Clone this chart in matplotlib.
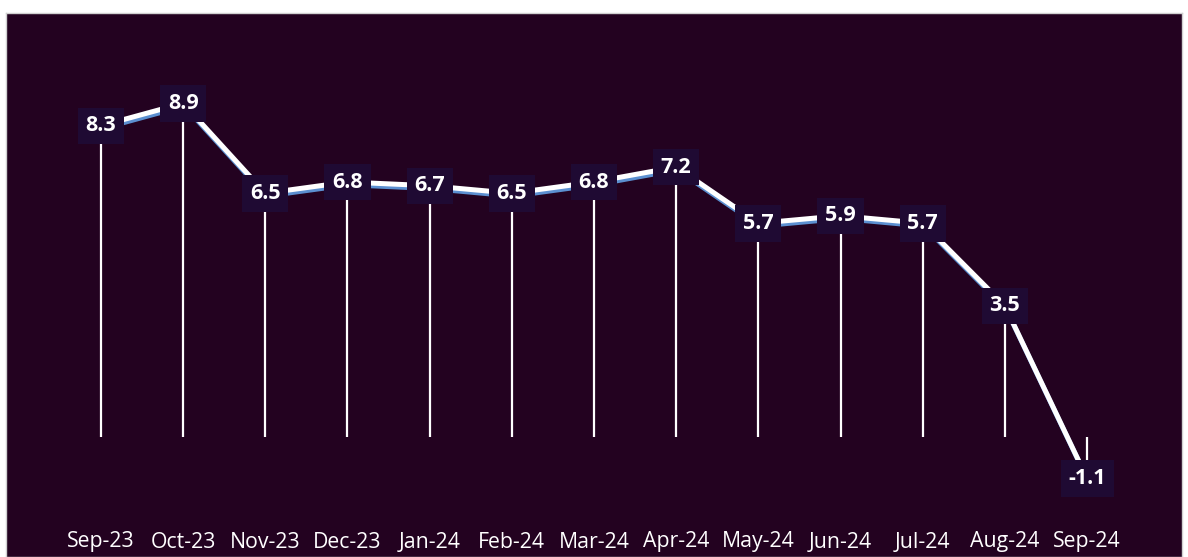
import matplotlib.pyplot as plt
import matplotlib.patheffects as pe

# monthly values
months = ["Sep-23", "Oct-23", "Nov-23", "Dec-23", "Jan-24", "Feb-24", "Mar-24",
          "Apr-24", "May-24", "Jun-24", "Jul-24", "Aug-24", "Sep-24"]
values = [8.3, 8.9, 6.5, 6.8, 6.7, 6.5, 6.8, 7.2, 5.7, 5.9, 5.7, 3.5, -1.1]

BG = "#230220"
BOX = "#1f0a33"
SHADOW = "#5b8fd0"

W, H = 1188, 557
fig = plt.figure(figsize=(W / 100, H / 100), dpi=100)
fig.patch.set_facecolor("white")

# plot area in pixels: left 6, right 1182, top 13, bottom 557
ax = fig.add_axes([6 / W, 0, (1182 - 6) / W, (557 - 13) / H])
ax.set_facecolor(BG)
for s in ax.spines.values():
    s.set_color("#d0d0d0")
    s.set_linewidth(1)

x = list(range(len(months)))

# drop lines from zero to each point
ax.vlines(x, 0, values, color="white", linewidth=1.6, zorder=2)

ax.plot(x, values, color="white", linewidth=3.6, solid_capstyle="butt", zorder=3,
        path_effects=[pe.SimpleLineShadow(offset=(0.8, -2.0), shadow_color=SHADOW, alpha=1),
                      pe.Normal()])

for xi, v in zip(x, values):
    ax.text(xi, v, f"{v:.1f}", ha="center", va="center", color="white",
            fontsize=15.5, fontweight="bold", family="Open Sans", zorder=5,
            bbox=dict(boxstyle="square,pad=0.36", facecolor=BOX, edgecolor="none"))

# category labels at the bottom
for xi, m in zip(x, months):
    ax.text(xi, -2.8, m, ha="center", va="center", color="white",
            fontsize=15.3, family="Open Sans")

# 0 sits at y=437 px, 37.5 px per unit
ax.set_ylim(-(557 - 437) / 37.5, (437 - 13) / 37.5)
ax.set_xlim(-95 / 82.17, 12 + 95 / 82.17)
ax.set_xticks([])
ax.set_yticks([])

fig.savefig("out.png", dpi=100, facecolor=fig.get_facecolor())
